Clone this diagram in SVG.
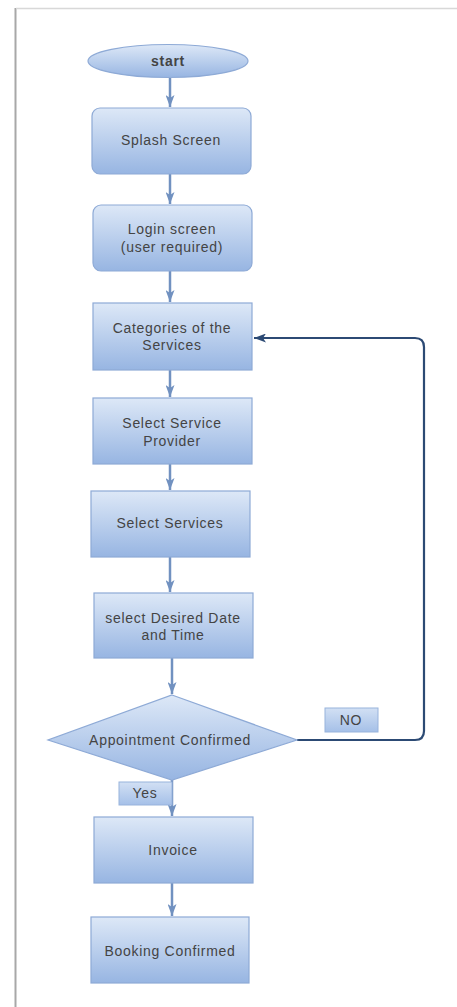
<svg xmlns="http://www.w3.org/2000/svg" width="457" height="1007" viewBox="0 0 457 1007">
<defs>
<linearGradient id="g" x1="0" y1="0" x2="0" y2="1">
<stop offset="0" stop-color="#dde8f7"/>
<stop offset="1" stop-color="#97b5e2"/>
</linearGradient>
<linearGradient id="gl" x1="0" y1="0" x2="0" y2="1">
<stop offset="0" stop-color="#d2e0f4"/>
<stop offset="1" stop-color="#a5c0e8"/>
</linearGradient>
<marker id="ah" viewBox="0 0 12 9" refX="12" refY="4.5" markerWidth="12" markerHeight="9" markerUnits="userSpaceOnUse" orient="auto">
<path d="M0,0 L12,4.5 L0,9 L3,4.5 Z" fill="#7191c0"/>
</marker>
<marker id="ahd" viewBox="0 0 12 9" refX="12" refY="4.5" markerWidth="12" markerHeight="9" markerUnits="userSpaceOnUse" orient="auto">
<path d="M0,0 L12,4.5 L0,9 L3,4.5 Z" fill="#2c4a74"/>
</marker>
</defs>
<style>
.n{fill:url(#g);stroke:#8eaad6;stroke-width:1.2}
.l{fill:url(#gl);stroke:#98b3dc;stroke-width:1}
.t{font-family:"Liberation Sans",Arial,sans-serif;font-size:14px;fill:#444444;text-anchor:middle;dominant-baseline:central;letter-spacing:0.7px}
.c{fill:none;stroke:#7191c0;stroke-width:2.5}
</style>
<rect x="0" y="0" width="457" height="1007" fill="#ffffff"/>
<g id="frame">
<line x1="15.5" y1="8" x2="15.5" y2="1007" stroke="#a8a8a8" stroke-width="2"/>
<line x1="16" y1="8.5" x2="457" y2="8.5" stroke="#d8d8d8" stroke-width="1.5"/>
</g>
<g id="connectors">
<line class="c" x1="170" y1="78" x2="170" y2="107" marker-end="url(#ah)"/>
<line class="c" x1="170" y1="174" x2="170" y2="204" marker-end="url(#ah)"/>
<line class="c" x1="170" y1="271" x2="170" y2="302" marker-end="url(#ah)"/>
<line class="c" x1="170" y1="370" x2="170" y2="397" marker-end="url(#ah)"/>
<line class="c" x1="170" y1="464" x2="170" y2="490" marker-end="url(#ah)"/>
<line class="c" x1="170" y1="557" x2="170" y2="592" marker-end="url(#ah)"/>
<line class="c" x1="172" y1="658" x2="172" y2="694" marker-end="url(#ah)"/>
<line class="c" x1="172" y1="780" x2="172" y2="816" marker-end="url(#ah)"/>
<line class="c" x1="172" y1="883" x2="172" y2="916" marker-end="url(#ah)"/>
<path d="M297,740 L415,740 Q424,740 424,731 L424,347 Q424,338 415,338 L254,338" fill="none" stroke="#2c4a74" stroke-width="2.2" marker-end="url(#ahd)"/>
</g>
<g id="start">
<ellipse class="n" cx="168" cy="61" rx="80" ry="16.5"/>
<text class="t" x="168" y="61" font-weight="bold" font-size="13px">start</text>
</g>
<g id="splash">
<rect class="n" x="92" y="108" width="159" height="66" rx="8"/>
<text class="t" x="171" y="140">Splash Screen</text>
</g>
<g id="login">
<rect class="n" x="93" y="205" width="159" height="66" rx="8"/>
<text class="t" x="172" y="229">Login screen</text>
<text class="t" x="172" y="247">(user required)</text>
</g>
<g id="categories">
<rect class="n" x="93" y="303" width="159" height="67"/>
<text class="t" x="172" y="328">Categories of the</text>
<text class="t" x="172" y="345">Services</text>
</g>
<g id="provider">
<rect class="n" x="93" y="398" width="159" height="66"/>
<text class="t" x="172" y="423">Select Service</text>
<text class="t" x="172" y="441">Provider</text>
</g>
<g id="services">
<rect class="n" x="91" y="491" width="159" height="66"/>
<text class="t" x="170" y="523">Select Services</text>
</g>
<g id="datetime">
<rect class="n" x="94" y="593" width="159" height="65"/>
<text class="t" x="173" y="618">select Desired Date</text>
<text class="t" x="173" y="635">and Time</text>
</g>
<g id="decision">
<polygon class="n" points="172,695 297,740 172,780 48,740"/>
<text class="t" x="170" y="740">Appointment Confirmed</text>
</g>
<g id="no">
<rect class="l" x="325" y="708" width="53" height="24"/>
<text class="t" x="351" y="720">NO</text>
</g>
<g id="yes">
<rect class="l" x="119" y="782" width="53" height="23"/>
<text class="t" x="145" y="793">Yes</text>
</g>
<g id="invoice">
<rect class="n" x="94" y="817" width="159" height="66"/>
<text class="t" x="173" y="850">Invoice</text>
</g>
<g id="booking">
<rect class="n" x="91" y="917" width="158" height="66"/>
<text class="t" x="170" y="951">Booking Confirmed</text>
</g>
</svg>
